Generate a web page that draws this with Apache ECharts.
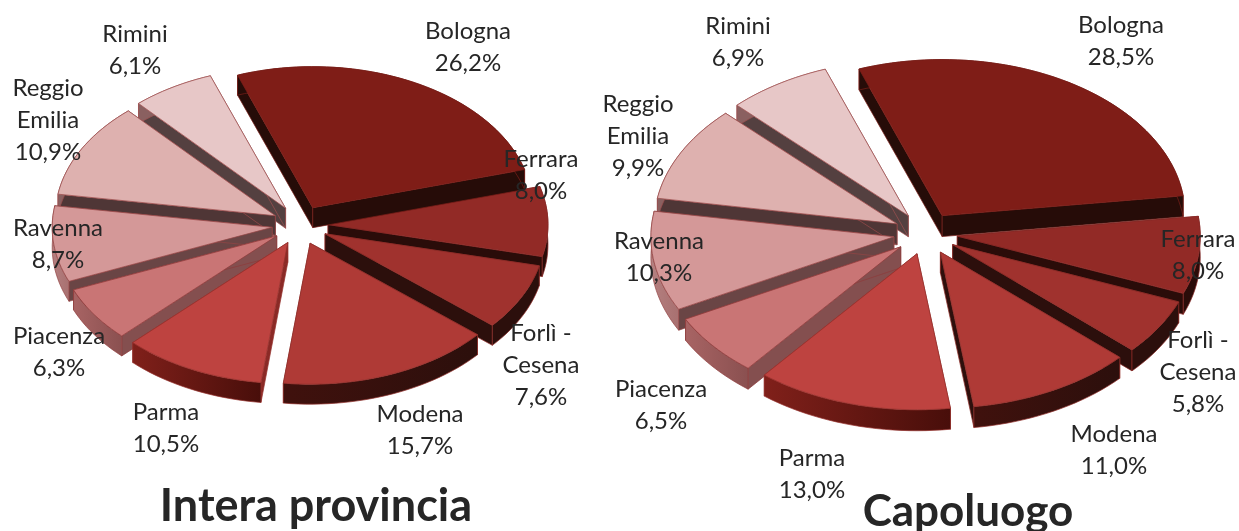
<!DOCTYPE html>
<html>
<head>
<meta charset="utf-8">
<style>html,body{margin:0;padding:0;background:#fff}#c{width:1239px;height:531px}</style>
<script src="https://cdn.jsdelivr.net/npm/echarts@6/dist/echarts.min.js"></script>
</head>
<body>
<div id="c"></div>
<script>
// ---- data ----
const categories = ['Bologna','Ferrara','Forlì -\nCesena','Modena','Parma','Piacenza','Ravenna','Reggio\nEmilia','Rimini'];
const provinciaValues = [26.2,8.0,7.6,15.7,10.5,6.3,8.7,10.9,6.1];
const capoluogoValues = [28.5,8.0,5.8,11.0,13.0,6.5,10.3,9.9,6.9];
const titles = ['Intera provincia','Capoluogo'];

// ---- styles ----
const topColors = ['#7F1D17','#922A26','#A0322E','#AF3A36','#BE4340','#C97575','#D49898','#DEB1AF','#E7C7C7'];
const cutColors = ['#260C08','#2A0C09','#2C0F0C','#2E100D','#8A2A26','#844F4F','#6A4545','#4F3636','#544040'];
const arcColors = [['#260C08','#260C08'],['#2A0C09','#2A0C09'],['#2C0F0C','#2C0F0C'],['#40110D','#2C0F0C'],
  ['#80201A','#480E0A'],['#A86464','#8A5050'],['#B58080','#A87070'],['#8a6060','#8a6060'],['#8a6060','#8a6060']];
const strokeColors = ['rgba(122,30,24,.7)','rgba(138,42,38,.7)','rgba(142,44,40,.7)','rgba(147,48,44,.7)','rgba(150,48,44,.7)',
  'rgba(142,58,58,.7)','rgba(148,68,68,.7)','rgba(154,74,74,.7)','rgba(160,80,80,.7)'];
const drawOrder = [8,7,6,5,4,1,2,3,0]; // slice indices, painted back to front
const startAngle = -20;

// ---- layout ----
const leftLayout = {cx:300,cy:225,rx:220,ry:141,explodeX:28,explodeY:19.5,depth:20,
  labels:[[468,47],[541,175],[541,365],[420,430],[166,428],[59,352],[58,244],[48,120],[135,50]]};
const rightLayout = {cx:925.5,cy:233.5,rx:243,ry:156,explodeX:32,explodeY:21,depth:21,
  labels:[[1121,41],[1198,255],[1198,372],[1114,450],[812,474],[661,405],[659,257],[638,136],[738,42]]};

function fmt(v){return v.toFixed(1).replace('.',',')+'%';}

function pieSeries(values, L){
  const total = values.reduce((a,b)=>a+b,0);
  const rad = d=>d*Math.PI/180;
  return {
    type:'custom', coordinateSystem:'none', silent:true, animation:false, clip:false,
    data: values.map(v=>[v]),
    renderItem(params, api){
      const i = params.dataIndex;
      const value = api.value(0);
      let before = 0;
      for(let j=0;j<i;j++) before += values[j];
      const a0 = startAngle + before/total*360;
      const a1 = a0 + value/total*360;
      const mid = rad((a0+a1)/2);
      const ox = L.cx + L.explodeX*Math.sin(mid);
      const oy = L.cy - L.explodeY*Math.cos(mid);
      const arc = [];
      const n = Math.max(4, Math.ceil((a1-a0)/2));
      for(let s=0;s<=n;s++){
        const t = rad(a0+(a1-a0)*s/n);
        arc.push([ox+L.rx*Math.sin(t), oy-L.ry*Math.cos(t)]);
      }
      const d = L.depth, down = p=>[p[0],p[1]+d];
      const apex = [ox,oy], first = arc[0], last = arc[arc.length-1];
      const order = drawOrder.indexOf(i);
      const st = {stroke:strokeColors[i], lineWidth:1, lineJoin:'round'};
      const side = (pts,fill)=>({type:'polygon',z2:order*10+1,shape:{points:pts},style:Object.assign({fill},st)});
      const arcFill = {type:'linear',x:0,y:0,x2:1,y2:0,colorStops:[
        {offset:0,color:arcColors[i][0]},{offset:1,color:arcColors[i][1]}]};
      const lines = (categories[i]+'\n'+fmt(value));
      return {type:'group',children:[
        side([apex,first,down(first),down(apex)],cutColors[i]),
        side([apex,last,down(last),down(apex)],cutColors[i]),
        side(arc.concat(arc.map(down).reverse()),arcFill),
        {type:'polygon',z2:order*10+2,shape:{points:[apex].concat(arc)},style:Object.assign({fill:topColors[i]},st)},
        {type:'text',z2:1000,style:{text:lines,x:L.labels[i][0],y:L.labels[i][1],align:'center',verticalAlign:'middle',
          fill:'#262626',font:'24px Lato',lineHeight:32}}
      ]};
    }
  };
}

const chart = echarts.init(document.getElementById('c'),null,{renderer:'canvas'});
chart.setOption({
  animation:false,
  title:[
    {text:titles[0],left:311,top:479,textAlign:'center',textStyle:{fontFamily:'Lato',fontWeight:'bold',fontSize:45,color:'#262626'}},
    {text:titles[1],left:963,top:485,textAlign:'center',textStyle:{fontFamily:'Lato',fontWeight:'bold',fontSize:44,color:'#262626'}}
  ],
  series:[pieSeries(provinciaValues,leftLayout),pieSeries(capoluogoValues,rightLayout)]
});
</script>
</body>
</html>
